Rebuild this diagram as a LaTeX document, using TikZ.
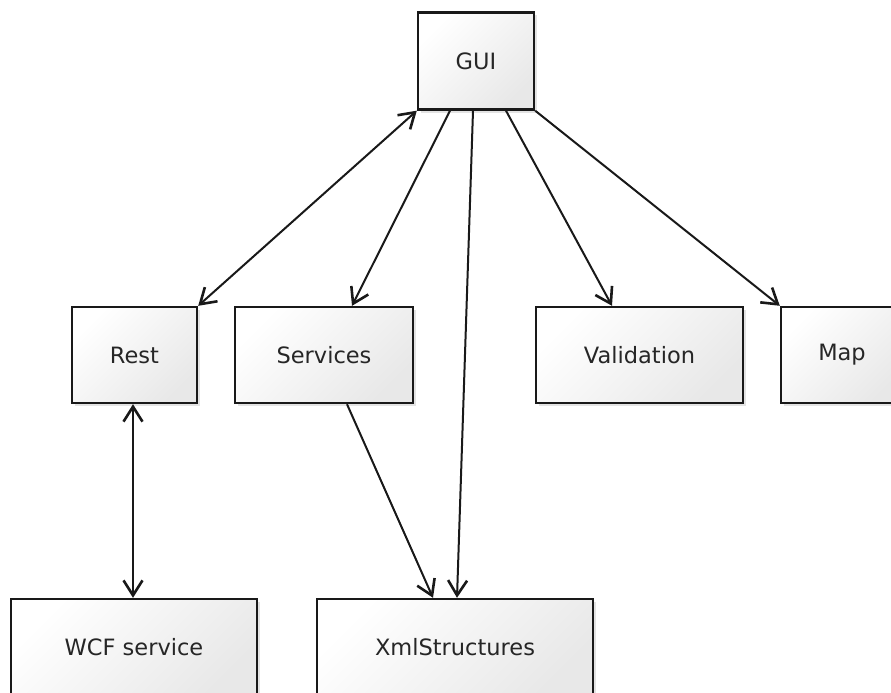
\documentclass[tikz,border=0pt]{standalone}
\usepackage{fontspec}
\setmainfont{DejaVu Sans}
\usetikzlibrary{arrows.meta,shadows}

\tikzset{
  modbox/.style={rectangle, draw=black!90, line width=2.4pt, inner sep=0pt,
    shading=axis, top color=white, bottom color=black!9, shading angle=45,
    drop shadow={shadow xshift=3pt, shadow yshift=-3pt, opacity=.18, fill=black!60},
    text=black!85, font=\fontsize{22.5}{27}\selectfont},
  link/.style={draw=black!90, line width=2pt, -{Straight Barb[length=15pt,width=19pt,line width=2.6pt]}},
  dlink/.style={link,
    {Straight Barb[length=15pt,width=19pt,line width=2.6pt]}-{Straight Barb[length=15pt,width=19pt,line width=2.6pt]}}
}

\begin{document}
\begin{tikzpicture}[x=1pt,y=-1pt]

        \useasboundingbox (0,0) rectangle (891,693);

        \begin{scope}[every node/.style={modbox}]
          \node[minimum width=116pt, minimum height=97pt] (gui)  at (476,61)    {GUI};
          \node[minimum width=125pt, minimum height=96pt] (rest) at (134.5,355) {Rest};
          \node[minimum width=178pt, minimum height=96pt] (serv) at (324,355)   {Services};
          \node[minimum width=207pt, minimum height=96pt] (valid) at (639.5,355) {Validation};
          \node[minimum width=122pt, minimum height=96pt] (map)  at (842,355)   {Map};
          \node[minimum width=246pt, minimum height=96pt] (wcf)  at (134,647)   {WCF service};
          \node[minimum width=276pt, minimum height=96pt] (xml)  at (455,647)   {XmlStructures};
        \end{scope}

        \begin{scope}[every edge/.style={link}]
          \path (gui.south west) edge[dlink] (rest.north east);
          \path ([xshift=-26pt]gui.south) edge ([xshift=28pt]serv.north);
          \path ([xshift=-3pt]gui.south) edge ([xshift=2pt]xml.north);
          \path ([xshift=30pt]gui.south) edge ([xshift=-27.5pt]valid.north);
          \path (gui.south east) edge (map.north west);
          \path ([xshift=23pt]serv.south) edge ([xshift=-22pt]xml.north);
          \path ([xshift=-1.5pt]rest.south) edge[dlink] ([xshift=-1.5pt]rest.south |- wcf.north);
        \end{scope}

      \end{tikzpicture}
\end{document}
